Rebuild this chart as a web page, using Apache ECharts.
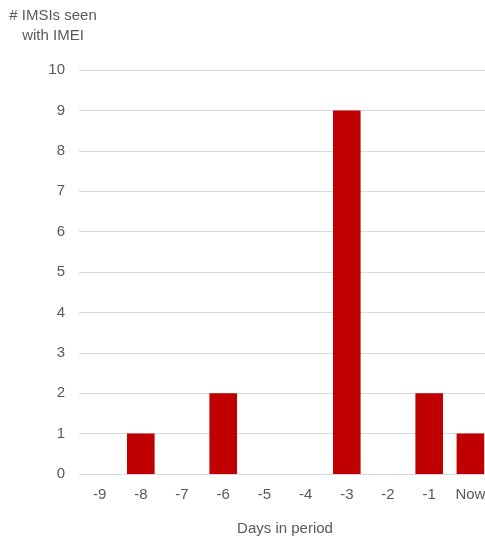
<!DOCTYPE html>
<html>
<head>
<meta charset="utf-8">
<script src="https://cdn.jsdelivr.net/npm/echarts@6/dist/echarts.min.js"></script>
<style>
  html, body { margin: 0; padding: 0; background: #fff; overflow: hidden; }
  #main { width: 491px; height: 540px; }
</style>
</head>
<body>
<div id="main"></div>
<script>
var days = ['-9', '-8', '-7', '-6', '-5', '-4', '-3', '-2', '-1', 'Now'];
var imsiCounts = [0, 1, 0, 2, 0, 0, 9, 0, 2, 1];
var yTicks = [0, 1, 2, 3, 4, 5, 6, 7, 8, 9, 10];

var myChart = echarts.init(document.getElementById('main'));
var font = '"Liberation Sans", Arial, sans-serif';

var option = {
    animation: false,
    grid: {
        top: 70,
        bottom: 66,
        left: 79,
        right: 0,
        outerBoundsMode: 'none'
    },
    graphic: [{
        type: 'text',
        x: 53,
        y: 6,
        style: {
            text: '# IMSIs seen\nwith IMEI',
            textAlign: 'center',
            fill: '#595959',
            font: '15px ' + font,
            lineHeight: 20
        }
    }],
    xAxis: {
        type: 'category',
        data: days,
        name: 'Days in period',
        nameLocation: 'middle',
        nameGap: 47,
        nameTextStyle: { color: '#595959', fontSize: 15, fontFamily: font },
        axisLine: { show: false },
        axisTick: { show: false },
        axisLabel: { color: '#595959', fontSize: 15, fontFamily: font, margin: 13 }
    },
    yAxis: {
        type: 'value',
        min: yTicks[0],
        max: yTicks[yTicks.length - 1],
        interval: 1,
        axisLine: { show: false },
        axisTick: { show: false },
        axisLabel: { color: '#595959', fontSize: 15, fontFamily: font, margin: 14 },
        splitLine: { lineStyle: { color: '#d9d9d9', width: 1 } }
    },
    series: [{
        name: '# IMSIs seen with IMEI',
        type: 'bar',
        data: imsiCounts,
        barCategoryGap: '33%',
        itemStyle: { color: '#C00000' }
    }]
};
myChart.setOption(option);
</script>
</body>
</html>
